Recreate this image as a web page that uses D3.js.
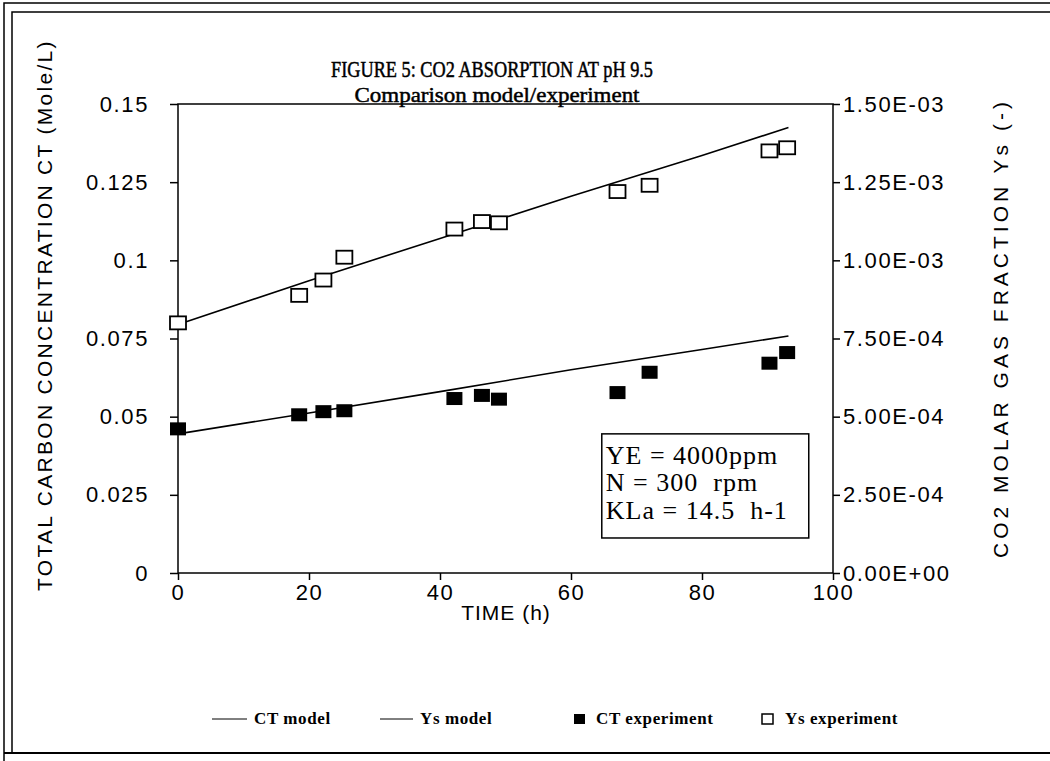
<!DOCTYPE html>
<html>
<head>
<meta charset="utf-8">
<script src="https://cdn.jsdelivr.net/npm/d3@7"></script>
<style>
  body { margin: 0; background: #fff; }
  .tick text { font-family: "Liberation Sans", Arial, sans-serif; font-size: 22px; fill: #000; letter-spacing: 1.6px; }
</style>
</head>
<body>
<script>
// readings
var times  = [0, 18.5, 22.2, 25.4, 42.2, 46.4, 49.0, 67.1, 72.0, 90.3, 93.0];
var ctExp  = [0.0461, 0.0506, 0.0516, 0.0519, 0.0558, 0.0568, 0.0556, 0.0577, 0.0642, 0.0671, 0.0705];
var ysExp  = [8.0e-4, 8.88e-4, 9.37e-4, 1.01e-3, 1.10e-3, 1.124e-3, 1.12e-3, 1.22e-3, 1.24e-3, 1.35e-3, 1.36e-3];
var modelTimes = [0, 20, 40, 60, 80, 93.2];
var ctModel = [0.0445, 0.0512, 0.0580, 0.0650, 0.0715, 0.0758];
var ysModel = [7.95e-4, 9.35e-4, 1.07e-3, 1.205e-3, 1.335e-3, 1.425e-3];

var xTicks = [0, 20, 40, 60, 80, 100];
var leftTicks = [0, 0.025, 0.05, 0.075, 0.1, 0.125, 0.15];
var leftLabels = ["0", "0.025", "0.05", "0.075", "0.1", "0.125", "0.15"];
var rightTicks = [0, 2.5e-4, 5e-4, 7.5e-4, 1e-3, 1.25e-3, 1.5e-3];
var rightLabels = ["0.00E+00", "2.50E-04", "5.00E-04", "7.50E-04", "1.00E-03", "1.25E-03", "1.50E-03"];
var boxLines = ["YE = 4000ppm", "N = 300  rpm", "KLa = 14.5  h-1"];
var legendNames = ["CT model", "Ys model", "CT experiment", "Ys experiment"];

var W = 1050, H = 761;
var svg = d3.select("body").append("svg").attr("width", W).attr("height", H);

// double frame, cut off on the right
var frame = svg.append("g").attr("fill", "none").attr("stroke", "#000");
frame.append("path").attr("d", "M4,761 V3 H1050").attr("stroke-width", 1.5);
frame.append("path").attr("d", "M12,753 V12 H1050").attr("stroke-width", 1.5);
frame.append("path").attr("d", "M4,753 H1050").attr("stroke-width", 2);

var x = d3.scaleLinear().domain([0, 100]).range([178, 833]);
var yL = d3.scaleLinear().domain([0, 0.15]).range([573, 104]);
var yR = d3.scaleLinear().domain([0, 1.5e-3]).range([573, 104]);

// plot box
svg.append("rect").attr("x", x(0)).attr("y", yL(0.15))
   .attr("width", x(100) - x(0)).attr("height", yL(0) - yL(0.15))
   .attr("fill", "none").attr("stroke", "#000").attr("stroke-width", 1.5);

var gx = svg.append("g").attr("transform", "translate(0," + yL(0) + ")")
   .call(d3.axisBottom(x).tickValues(xTicks).tickSize(7).tickPadding(4));
var gl = svg.append("g").attr("transform", "translate(" + x(0) + ",0)")
   .call(d3.axisLeft(yL).tickValues(leftTicks).tickSize(8).tickPadding(21)
     .tickFormat(function(d, i){ return leftLabels[i]; }));
var gr = svg.append("g").attr("transform", "translate(" + x(100) + ",0)")
   .call(d3.axisRight(yR).tickValues(rightTicks).tickSize(7).tickPadding(3)
     .tickFormat(function(d, i){ return rightLabels[i]; }));
[gx, gl, gr].forEach(function(g){
  g.select(".domain").remove();
  g.selectAll(".tick line").attr("stroke", "#000").attr("stroke-width", 1.5);
});

// model lines
var lineL = d3.line().x(function(d){ return x(d[0]); }).y(function(d){ return yL(d[1]); });
var lineR = d3.line().x(function(d){ return x(d[0]); }).y(function(d){ return yR(d[1]); });
svg.append("path").datum(d3.zip(modelTimes, ctModel)).attr("d", lineL)
   .attr("fill", "none").attr("stroke", "#000").attr("stroke-width", 1.6);
svg.append("path").datum(d3.zip(modelTimes, ysModel)).attr("d", lineR)
   .attr("fill", "none").attr("stroke", "#000").attr("stroke-width", 1.6);

// experiment markers
var mw = 16, mh = 13;
svg.selectAll("rect.ys").data(d3.zip(times, ysExp)).enter().append("rect")
   .attr("class", "ys")
   .attr("x", function(d){ return x(d[0]) - mw / 2; })
   .attr("y", function(d){ return yR(d[1]) - mh / 2; })
   .attr("width", mw).attr("height", mh)
   .attr("fill", "#fff").attr("stroke", "#000").attr("stroke-width", 1.8);
svg.selectAll("rect.ct").data(d3.zip(times, ctExp)).enter().append("rect")
   .attr("class", "ct")
   .attr("x", function(d){ return x(d[0]) - mw / 2; })
   .attr("y", function(d){ return yL(d[1]) - mh / 2; })
   .attr("width", mw).attr("height", mh)
   .attr("fill", "#000");

// titles
var serif = "'Liberation Serif', 'Times New Roman', serif";
var sans = "'Liberation Sans', Arial, sans-serif";
svg.append("text").attr("x", 492).attr("y", 77).attr("text-anchor", "middle")
   .attr("font-family", serif).attr("font-size", 23)
   .attr("stroke", "#000").attr("stroke-width", 0.5)
   .attr("textLength", 322).attr("lengthAdjust", "spacingAndGlyphs")
   .text("FIGURE 5: CO2 ABSORPTION AT pH 9.5");
svg.append("text").attr("x", 497).attr("y", 102).attr("text-anchor", "middle")
   .attr("font-family", serif).attr("font-size", 22)
   .attr("stroke", "#000").attr("stroke-width", 0.5)
   .attr("textLength", 285).attr("lengthAdjust", "spacingAndGlyphs")
   .text("Comparison model/experiment");

svg.append("text").attr("x", 506).attr("y", 620).attr("text-anchor", "middle")
   .attr("font-family", sans).attr("font-size", 21).attr("letter-spacing", 1)
   .text("TIME (h)");
svg.append("text").attr("transform", "translate(52,315) rotate(-90)")
   .attr("text-anchor", "middle").attr("font-family", sans).attr("font-size", 21)
   .attr("letter-spacing", 2.3)
   .text("TOTAL CARBON CONCENTRATION CT (Mole/L)");
svg.append("text").attr("transform", "translate(1008,328) rotate(-90)")
   .attr("text-anchor", "middle").attr("font-family", sans).attr("font-size", 21)
   .attr("letter-spacing", 4)
   .text("CO2 MOLAR GAS FRACTION Ys (-)");

// parameter box
var bx = x(64.7), by = yL(0.0445);
svg.append("rect").attr("x", bx).attr("y", by)
   .attr("width", x(96.3) - bx).attr("height", yL(0.0112) - by)
   .attr("fill", "#fff").attr("stroke", "#000").attr("stroke-width", 1.5);
svg.selectAll("text.box").data(boxLines).enter().append("text")
   .attr("class", "box").attr("x", bx + 4)
   .attr("y", function(d, i){ return by + 30 + i * 27.5; })
   .attr("font-family", serif).attr("font-size", 26).attr("letter-spacing", 1)
   .style("white-space", "pre")
   .text(function(d){ return d; });

// legend
var lg = svg.append("g").attr("font-family", serif).attr("font-size", 17).attr("font-weight", "bold")
   .attr("letter-spacing", 0.6);
var ly = 719;
lg.append("line").attr("x1", 212).attr("x2", 247).attr("y1", ly).attr("y2", ly).attr("stroke", "#000");
lg.append("line").attr("x1", 380).attr("x2", 413).attr("y1", ly).attr("y2", ly).attr("stroke", "#000");
lg.append("rect").attr("x", 574).attr("y", ly - 5).attr("width", 11).attr("height", 10).attr("fill", "#000");
lg.append("rect").attr("x", 762).attr("y", ly - 5).attr("width", 11).attr("height", 10)
  .attr("fill", "#fff").attr("stroke", "#000").attr("stroke-width", 1.5);
var legX = [254, 420, 596, 785];
lg.selectAll("text").data(legendNames).enter().append("text")
  .attr("x", function(d, i){ return legX[i]; }).attr("y", ly + 5)
  .text(function(d){ return d; });
</script>
</body>
</html>
